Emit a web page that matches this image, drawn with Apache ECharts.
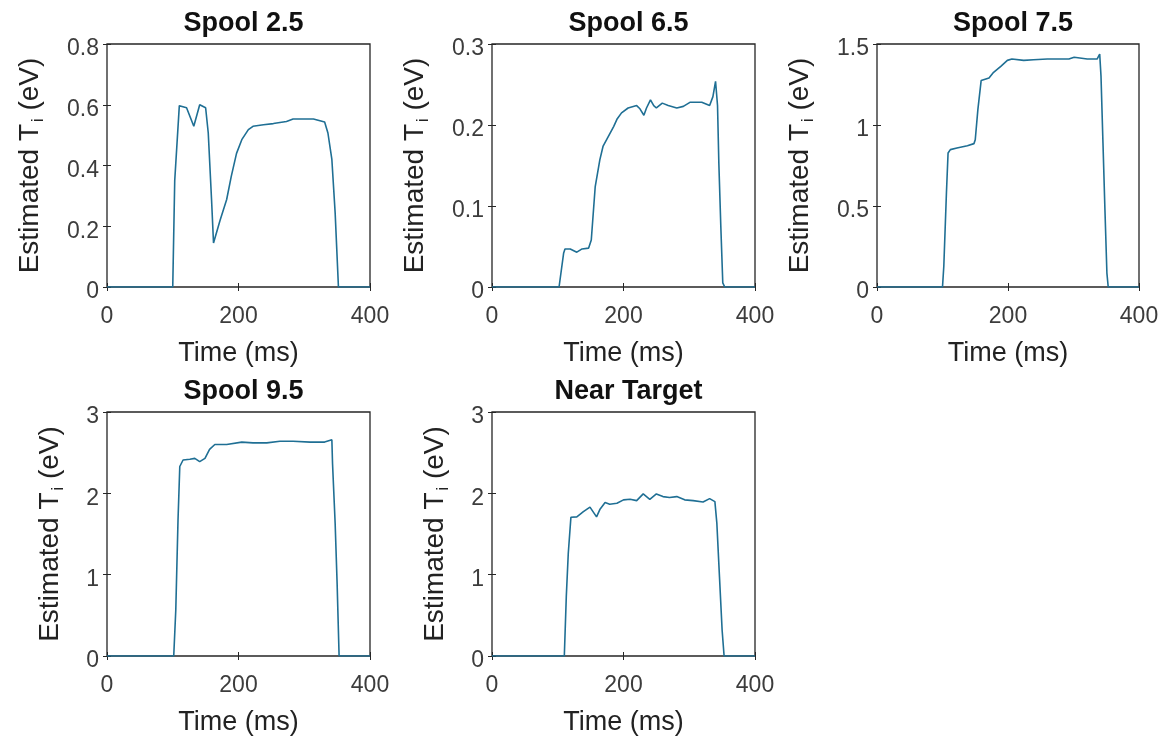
<!DOCTYPE html>
<html>
<head>
<meta charset="utf-8">
<script src="https://cdn.jsdelivr.net/npm/echarts@6/dist/echarts.min.js"></script>
<style>
html,body{margin:0;padding:0;background:#fff;}
#chart{width:1176px;height:738px;}
</style>
</head>
<body>
<div id="chart"></div>
<script>
// ---- Data (time in ms, estimated Ti in eV) ----
const titles = ['Spool 2.5', 'Spool 6.5', 'Spool 7.5', 'Spool 9.5', 'Near Target'];
const xTicks = [0, 200, 400];

const t1 = [0, 100, 103, 110, 121, 132, 141, 150, 154, 159, 162, 172, 182, 189, 197, 205, 215, 222, 238, 253, 273, 283, 314, 331, 336, 342, 347, 352, 400];
const v1 = [0, 0, 0.35, 0.597, 0.59, 0.529, 0.60, 0.59, 0.507, 0.288, 0.145, 0.22, 0.288, 0.364, 0.44, 0.485, 0.518, 0.529, 0.534, 0.538, 0.545, 0.553, 0.553, 0.543, 0.507, 0.42, 0.244, 0, 0];

const t2 = [0, 102, 109, 111, 119, 129, 137, 147, 151, 157, 164, 169, 177, 185, 190, 197, 207, 220, 225, 231, 235, 241, 246, 250, 259, 268, 281, 291, 301, 319, 331, 336, 340, 343, 345, 348, 351, 354, 400];
const v2 = [0, 0, 0.042, 0.047, 0.047, 0.043, 0.047, 0.048, 0.058, 0.124, 0.157, 0.174, 0.186, 0.198, 0.207, 0.215, 0.221, 0.224, 0.22, 0.212, 0.221, 0.231, 0.224, 0.221, 0.227, 0.224, 0.221, 0.223, 0.228, 0.228, 0.224, 0.235, 0.254, 0.224, 0.153, 0.075, 0.005, 0, 0];

const t3 = [0, 100, 102, 106, 108.5, 112, 122, 138, 148, 150, 154, 159, 171, 178, 189, 199, 206, 224, 239, 260, 293, 301, 321, 336, 340, 342, 345, 348, 351, 353, 400];
const v3 = [0, 0, 0.128, 0.58, 0.827, 0.848, 0.858, 0.872, 0.885, 0.909, 1.095, 1.274, 1.29, 1.325, 1.362, 1.399, 1.407, 1.399, 1.403, 1.407, 1.407, 1.418, 1.407, 1.407, 1.438, 1.30, 0.889, 0.477, 0.086, 0, 0];

const t4 = [0, 101.5, 104.6, 108, 110.7, 115.7, 126, 133.5, 141, 149, 156, 164, 182, 205, 222, 243, 263, 283, 309, 331, 342, 343, 347, 350, 353, 400];
const v4 = [0, 0, 0.563, 1.67, 2.33, 2.41, 2.42, 2.43, 2.39, 2.43, 2.54, 2.60, 2.60, 2.63, 2.62, 2.62, 2.64, 2.64, 2.63, 2.63, 2.66, 2.37, 1.63, 0.89, 0, 0];

const t5 = [0, 110, 113, 116, 120, 129, 139, 149, 159, 164, 172, 179, 190, 200, 210, 220, 230, 240, 250, 260, 270, 281, 293, 306, 321, 331, 339, 342, 346, 350, 353, 400];
const v5 = [0, 0, 0.73, 1.26, 1.705, 1.71, 1.775, 1.83, 1.71, 1.80, 1.886, 1.866, 1.878, 1.92, 1.927, 1.91, 1.993, 1.927, 1.993, 1.96, 1.948, 1.96, 1.92, 1.91, 1.894, 1.935, 1.898, 1.63, 0.97, 0.316, 0, 0];

const yMax = [0.8, 0.3, 1.5, 3, 3];
const yInterval = [0.2, 0.1, 0.5, 1, 1];

const times = [t1, t2, t3, t4, t5];
const values = [v1, v2, v3, v4, v5];

// ---- Layout ----
const grids = [
  {left: 107, top: 44, width: 263, height: 243, nameGap: 60},
  {left: 492, top: 44, width: 263, height: 243, nameGap: 60},
  {left: 877, top: 44, width: 262, height: 243, nameGap: 60},
  {left: 107, top: 412, width: 263, height: 244, nameGap: 40},
  {left: 492, top: 412, width: 263, height: 244, nameGap: 40}
];

const FONT = '"Liberation Sans", Arial, Helvetica, sans-serif';
const LINE = '#1f6f94';
const AX = '#262626';
const TXT = '#3c3c3c';

const option = {
  backgroundColor: '#fff',
  animation: false,
  title: [],
  grid: [],
  xAxis: [],
  yAxis: [],
  series: []
};

grids.forEach((g, i) => {
  option.grid.push({left: g.left, top: g.top, width: g.width, height: g.height,
    show: true, borderColor: AX, borderWidth: 1.3, backgroundColor: '#fff', containLabel: false});
  option.title.push({
    text: titles[i], left: g.left + g.width / 2, top: g.top - 39, textAlign: 'center',
    textStyle: {fontFamily: FONT, fontSize: 27, fontWeight: 'bold', color: '#111'}
  });
  // bottom x axis
  option.xAxis.push({
    type: 'value', gridIndex: i, min: 0, max: 400, interval: 200, position: 'bottom',
    name: 'Time (ms)', nameLocation: 'middle', nameGap: 53,
    nameTextStyle: {fontFamily: FONT, fontSize: 27, color: '#222'},
    axisLine: {show: false},
    axisTick: {show: true, inside: true, length: 4, lineStyle: {color: AX}},
    splitLine: {show: false},
    axisLabel: {fontFamily: FONT, fontSize: 23, color: TXT, margin: 18,
      formatter: v => xTicks.includes(v) ? String(v) : ''}
  });
  // top x axis (ticks only)
  option.xAxis.push({
    type: 'value', gridIndex: i, min: 0, max: 400, interval: 200, position: 'top',
    axisLine: {show: false}, axisLabel: {show: false}, splitLine: {show: false},
    axisTick: {show: true, inside: true, length: 4, lineStyle: {color: AX}}
  });
  // left y axis
  option.yAxis.push({
    type: 'value', gridIndex: i, min: 0, max: yMax[i], interval: yInterval[i], position: 'left',
    name: 'Estimated T{sub|i} (eV)', nameLocation: 'middle', nameGap: g.nameGap, nameRotate: 90,
    nameTextStyle: {fontFamily: FONT, fontSize: 28, color: '#222', lineHeight: 34,
      rich: {sub: {fontFamily: FONT, fontSize: 16, color: '#222', verticalAlign: 'bottom', lineHeight: 12, padding: [16, 0, 0, 2]}}},
    axisLine: {show: false},
    axisTick: {show: true, inside: true, length: 4, lineStyle: {color: AX}},
    splitLine: {show: false},
    axisLabel: {fontFamily: FONT, fontSize: 23, color: TXT, margin: 8, verticalAlign: 'top', lineHeight: 10,
      formatter: v => String(parseFloat(v.toFixed(2)))}
  });
  // right y axis (ticks only)
  option.yAxis.push({
    type: 'value', gridIndex: i, min: 0, max: yMax[i], interval: yInterval[i], position: 'right',
    axisLine: {show: false}, axisLabel: {show: false}, splitLine: {show: false},
    axisTick: {show: true, inside: true, length: 4, lineStyle: {color: AX}}
  });
  option.series.push({
    type: 'line', xAxisIndex: 2 * i, yAxisIndex: 2 * i, showSymbol: false, z: 5,
    lineStyle: {color: LINE, width: 1.6},
    data: times[i].map((t, k) => [t, values[i][k]])
  });
});

const chart = echarts.init(document.getElementById('chart'), null, {renderer: 'canvas'});
chart.setOption(option);
</script>
</body>
</html>
